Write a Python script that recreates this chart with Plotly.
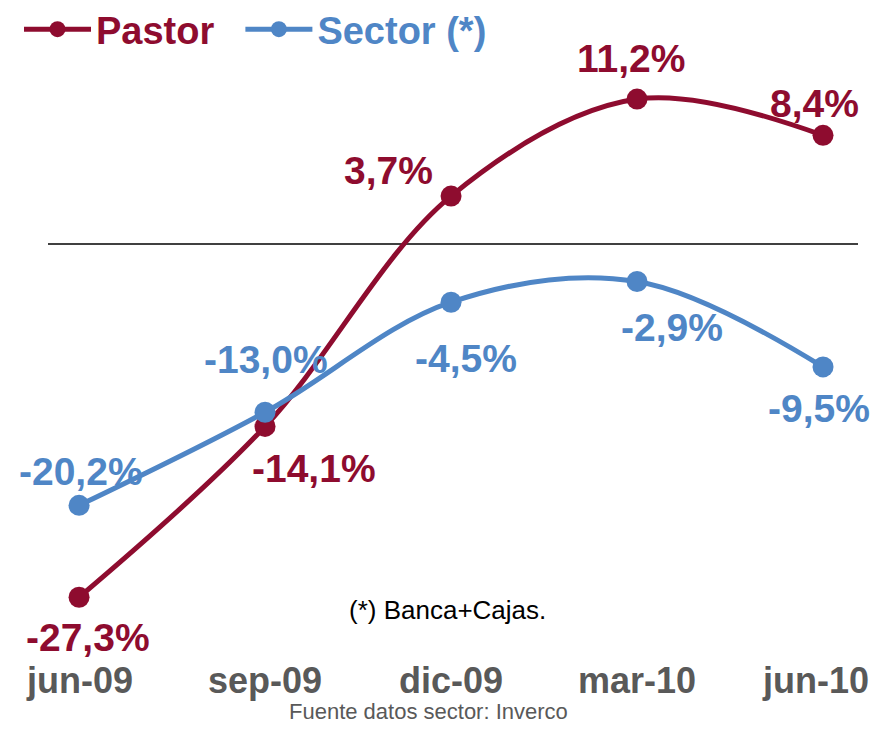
import plotly.graph_objects as go

fechas = ["jun-09", "sep-09", "dic-09", "mar-10", "jun-10"]
pastor = [-27.3, -14.1, 3.7, 11.2, 8.4]
sector = [-20.2, -13.0, -4.5, -2.9, -9.5]

rojo = "#8E0C2F"
azul = "#4F86C6"
gris = "#595959"
fuente = "Liberation Sans, Arial"

# la pagina deja 8px de margen en el body
W, H = 863, 718
L, R, T, B = 40, 13, 52, 66
PW, PH = W - L - R, H - T - B


def px(x):
    return (x - L) / PW


def py(y):
    return 1 - (y - T) / PH


def etiqueta(v):
    return f"<b>{v:.1f}%".replace(".", ",") + "</b>"


fig = go.Figure()
fig.add_trace(go.Scatter(
    x=fechas, y=pastor,
    name=f"<b><span style='color:{rojo}'>Pastor&nbsp;&nbsp;</span></b>",
    mode="lines+markers",
    line=dict(color=rojo, width=5, shape="spline"),
    marker=dict(size=21, color=rojo),
))
fig.add_trace(go.Scatter(
    x=fechas, y=sector, name=f"<b><span style='color:{azul}'>Sector (*)</span></b>",
    mode="lines+markers",
    line=dict(color=azul, width=5, shape="spline"),
    marker=dict(size=21, color=azul),
))

# desplazamientos (px) de las etiquetas respecto a cada punto
desp_pastor = [(9, -40), (49, -42), (-63, 26), (-6, 41), (-9, 32)]
desp_sector = [(2, 34), (1, 53), (15, -56), (35, -46), (-4, -42)]

for serie, desp, color in [(pastor, desp_pastor, rojo), (sector, desp_sector, azul)]:
    for f, v, (dx, dy) in zip(fechas, serie, desp):
        fig.add_annotation(
            x=f, y=v, text=etiqueta(v), showarrow=False,
            xshift=dx, yshift=dy,
            font=dict(size=39, color=color, family=fuente),
        )

# etiquetas del eje x
for i, f in enumerate(fechas):
    fig.add_annotation(
        x=f, y=0, xref="x", yref="paper", text=f"<b>{f}</b>", showarrow=False,
        yanchor="middle", yshift=-20, xshift=-8 if i == len(fechas) - 1 else 0,
        font=dict(size=36, color=gris, family=fuente),
    )

fig.add_annotation(
    x=px(439), y=py(602), xref="paper", yref="paper",
    text="(*) Banca+Cajas.", showarrow=False, yanchor="middle",
    font=dict(size=26, color="black", family=fuente),
)
fig.add_annotation(
    x=px(420), y=py(H), xref="paper", yref="paper",
    text="Fuente datos sector: Inverco", showarrow=False, yanchor="bottom",
    font=dict(size=22, color=gris, family=fuente),
)

fig.update_layout(
    width=W, height=H,
    margin=dict(l=L, r=R, t=T, b=B, autoexpand=False),
    plot_bgcolor="white", paper_bgcolor="white",
    font=dict(family=fuente),
    showlegend=True,
    legend=dict(
        orientation="h",
        x=px(11), y=py(-10), xanchor="left", yanchor="top",
        font=dict(size=38, color=gris), itemwidth=67,
        bgcolor="rgba(0,0,0,0)",
    ),
    xaxis=dict(
        range=[-0.167, 4.188], showgrid=False, zeroline=False, showline=False,
        showticklabels=False, ticks="",
    ),
    yaxis=dict(
        range=[-32.15, 14.22], showgrid=False, showticklabels=False,
        zeroline=True, zerolinecolor="#404040", zerolinewidth=2,
    ),
)

fig.write_html("out.html")
